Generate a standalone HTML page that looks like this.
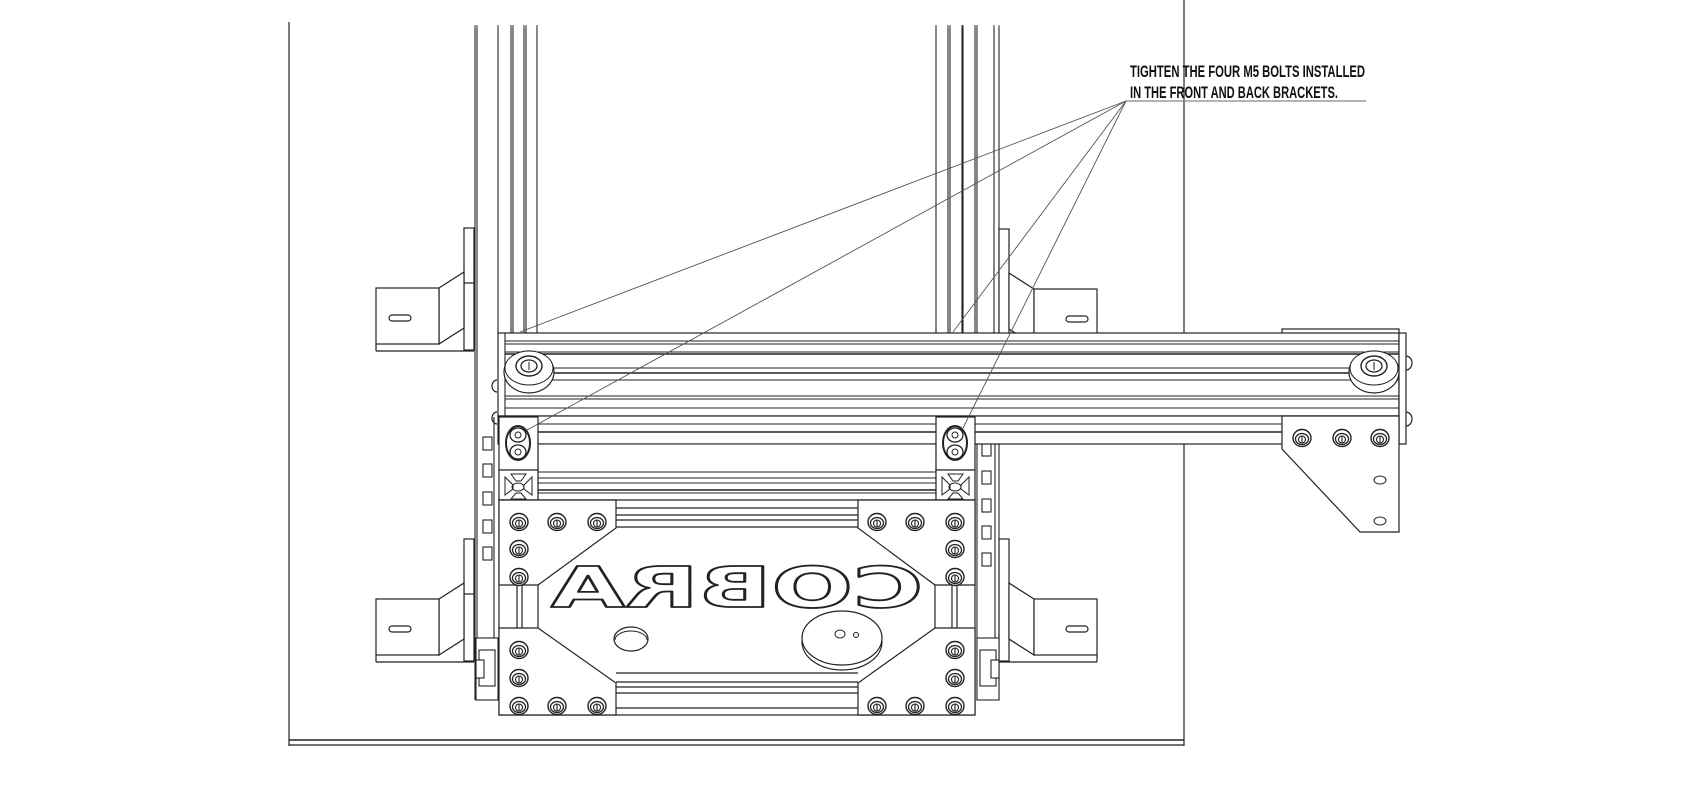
<!DOCTYPE html>
<html><head><meta charset="utf-8"><style>
html,body{margin:0;padding:0;background:#fff;}
svg{display:block}
</style></head><body>
<svg width="1700" height="800" viewBox="0 0 1700 800" xmlns="http://www.w3.org/2000/svg">
<defs>
<linearGradient id="fade" x1="0" y1="0" x2="0" y2="1"><stop offset="0" stop-color="#fff" stop-opacity="1"/><stop offset="1" stop-color="#fff" stop-opacity="0"/></linearGradient>
<g id="bolt"><ellipse cx="0" cy="0" rx="9" ry="8.5" fill="#fff" stroke="#222" stroke-width="1.4"/><ellipse cx="0" cy="1" rx="6.5" ry="5.5" fill="none" stroke="#222" stroke-width="1.3"/><circle cx="0" cy="1.5" r="3.5" fill="none" stroke="#222" stroke-width="1.1"/><line x1="0" y1="-2" x2="0" y2="5" stroke="#222" stroke-width="1.1"/></g>
<g id="wheel"><ellipse cx="0" cy="4" rx="25" ry="21" fill="#fff" stroke="#222" stroke-width="1.2"/><ellipse cx="0" cy="0" rx="24" ry="17" fill="#fff" stroke="#222" stroke-width="1"/><ellipse cx="0" cy="-2" rx="13" ry="10" fill="none" stroke="#222" stroke-width="1.4"/><ellipse cx="0" cy="-2" rx="8" ry="6" fill="none" stroke="#222" stroke-width="1.3"/><line x1="0" y1="-6" x2="0" y2="2" stroke="#222"/></g>
<g id="lbracket" fill="#fff" stroke="#222" stroke-width="1.2"><rect x="464" y="-60" width="10" height="122"/><line x1="464" y1="-5" x2="474" y2="-5"/><polygon points="439,0 464,-16 464,40 439,56"/><rect x="376" y="0" width="63" height="56"/><line x1="376" y1="63" x2="474" y2="63"/><line x1="376" y1="56" x2="376" y2="63"/><rect x="389" y="27" width="22" height="6" rx="3" fill="none"/></g>
<g id="rbracket" fill="#fff" stroke="#222" stroke-width="1.2"><rect x="999" y="-60" width="10" height="122"/><polygon points="1034,0 1009,-16 1009,40 1034,56"/><rect x="1034" y="0" width="63" height="56"/><line x1="999" y1="63" x2="1097" y2="63"/><line x1="1097" y1="56" x2="1097" y2="63"/><rect x="1066" y="27" width="22" height="6" rx="3" fill="none"/></g>
<g id="corner"><rect x="0" y="0" width="39" height="53" fill="#fff" stroke="#222" stroke-width="1.2"/><ellipse cx="19" cy="26" rx="12" ry="17" fill="#fff" stroke="#222" stroke-width="2"/><ellipse cx="19" cy="18" rx="8" ry="7" fill="#fff" stroke="#222" stroke-width="1.3"/><ellipse cx="19" cy="35" rx="8" ry="7" fill="#fff" stroke="#222" stroke-width="1.3"/><circle cx="19" cy="18" r="3" fill="none" stroke="#222"/><circle cx="19" cy="35" r="3" fill="none" stroke="#222"/><rect x="0" y="53" width="39" height="30" fill="#fff" stroke="#222" stroke-width="1.2"/><path d="M6,60 L14,68 L14,72 L6,78 Z M33,60 L25,68 L25,72 L33,78 Z M12,57 L27,57 L22,64 L17,64 Z M12,82 L27,82 L22,76 L17,76 Z" fill="none" stroke="#222"/><ellipse cx="19" cy="70" rx="6" ry="4" fill="none" stroke="#222"/></g>
</defs>
<g fill="none" stroke="#222" stroke-width="1.2">
<line x1="289" y1="22" x2="289" y2="746"/>
<line x1="1184" y1="0" x2="1184" y2="746"/>
<line x1="289" y1="740" x2="1184" y2="740" stroke-width="1.6"/>
<line x1="289" y1="745" x2="1184" y2="745"/>
<g stroke-width="1.1">
<line x1="475" y1="25" x2="475" y2="700"/><line x1="477" y1="25" x2="477" y2="700"/>
<line x1="498" y1="25" x2="498" y2="333"/><line x1="511" y1="25" x2="511" y2="333"/><line x1="513" y1="25" x2="513" y2="333"/>
<line x1="524" y1="25" x2="524" y2="333"/><line x1="526" y1="25" x2="526" y2="333"/><line x1="537" y1="25" x2="537" y2="333"/>
<line x1="494" y1="417" x2="494" y2="700"/>
<line x1="936" y1="25" x2="936" y2="333"/><line x1="948" y1="25" x2="948" y2="333"/><line x1="950" y1="25" x2="950" y2="333"/>
<line x1="962" y1="25" x2="962" y2="333"/><line x1="963" y1="25" x2="963" y2="333"/><line x1="975" y1="25" x2="975" y2="333"/>
<line x1="977" y1="25" x2="977" y2="700"/><line x1="994" y1="25" x2="994" y2="333"/><line x1="999" y1="25" x2="999" y2="700"/>
<line x1="995" y1="333" x2="995" y2="700"/>
</g>
</g>
<rect x="460" y="0" width="560" height="30" fill="url(#fade)"/>
<use href="#lbracket" transform="translate(0,288)"/>
<use href="#rbracket" transform="translate(0,289)"/>
<use href="#lbracket" transform="translate(0,599)"/>
<use href="#rbracket" transform="translate(0,599)"/>
<g fill="#fff" stroke="#222" stroke-width="1.1">
<rect x="483" y="437" width="9" height="13"/><rect x="483" y="464" width="9" height="13"/><rect x="483" y="492" width="9" height="13"/><rect x="483" y="520" width="9" height="13"/><rect x="483" y="547" width="9" height="13"/>
<rect x="982" y="443" width="9" height="13"/><rect x="982" y="471" width="9" height="13"/><rect x="982" y="499" width="9" height="13"/><rect x="982" y="526" width="9" height="13"/><rect x="982" y="553" width="9" height="13"/>
<rect x="476" y="638" width="22" height="62"/><rect x="479" y="650" width="16" height="36"/><rect x="476" y="660" width="8" height="18"/>
<rect x="977" y="638" width="22" height="62"/><rect x="980" y="650" width="16" height="36"/><rect x="991" y="660" width="8" height="18"/>
</g>
<rect x="1282" y="329" width="117" height="5" fill="#fff" stroke="#222" stroke-width="1.2"/>
<g fill="#fff" stroke="#222" stroke-width="1.2">
<rect x="498" y="333" width="901" height="83"/>
<rect x="498" y="416" width="901" height="28"/>
<rect x="1399" y="333" width="7" height="111"/>
<path d="M1406,356 a6,7 0 0 1 0,14 M1406,412 a6,7 0 0 1 0,14" fill="none"/>
<path d="M497,380 a5,6 0 0 0 0,12 M497,412 a5,6 0 0 0 0,12" fill="none"/>
</g>
<g stroke="#222" stroke-width="1.1">
<line x1="505" y1="333" x2="505" y2="416"/>
<line x1="505" y1="341" x2="1399" y2="341"/><line x1="505" y1="344" x2="1399" y2="344"/>
<line x1="505" y1="352" x2="1399" y2="352"/><line x1="505" y1="354" x2="1399" y2="354" stroke-width="1.6"/>
<line x1="505" y1="368" x2="1399" y2="368"/><line x1="505" y1="373" x2="1399" y2="373" stroke-width="1.6"/>
<line x1="505" y1="380" x2="1399" y2="380"/>
<line x1="505" y1="396" x2="1399" y2="396"/><line x1="505" y1="399" x2="1399" y2="399"/>
<line x1="505" y1="408" x2="1399" y2="408"/>
<line x1="498" y1="424" x2="1399" y2="424"/><line x1="498" y1="432" x2="1399" y2="432" stroke-width="1.6"/>
</g>
<use href="#wheel" transform="translate(529,368)"/>
<use href="#wheel" transform="translate(1374,368)"/>
<polygon points="1282,416 1399,416 1399,532 1360,532 1282,449" fill="#fff" stroke="#222" stroke-width="1.2"/>
<use href="#bolt" transform="translate(1302,438)"/>
<use href="#bolt" transform="translate(1342,438)"/>
<use href="#bolt" transform="translate(1380,438)"/>
<ellipse cx="1380" cy="480" rx="6" ry="4" fill="none" stroke="#222"/>
<ellipse cx="1380" cy="521" rx="6" ry="4" fill="none" stroke="#222"/>
<g stroke="#222" stroke-width="1.1">
<rect x="538" y="444" width="398" height="56" fill="#fff"/>
<line x1="538" y1="472" x2="936" y2="472"/><line x1="538" y1="478" x2="936" y2="478"/>
<line x1="538" y1="483" x2="936" y2="483"/><line x1="538" y1="490" x2="936" y2="490" stroke-width="1.6"/><line x1="538" y1="493" x2="936" y2="493"/>
</g>
<use href="#corner" transform="translate(499,417)"/>
<use href="#corner" transform="translate(936,417)"/>
<g stroke="#222" stroke-width="1.2">
<rect x="499" y="500" width="476" height="215" fill="#fff"/>
<line x1="616" y1="508" x2="858" y2="508"/><line x1="616" y1="515" x2="858" y2="515"/><line x1="616" y1="520" x2="858" y2="520"/><line x1="616" y1="527" x2="858" y2="527"/>
<line x1="616" y1="673" x2="858" y2="673"/><line x1="616" y1="682" x2="858" y2="682"/><line x1="616" y1="687" x2="858" y2="687"/><line x1="616" y1="693" x2="858" y2="693"/><line x1="616" y1="708" x2="858" y2="708"/>
<polygon points="499,500 616,500 616,528 538,585 499,585" fill="#fff"/>
<polygon points="858,500 975,500 975,585 935,585 858,528" fill="#fff"/>
<polygon points="499,628 538,628 616,683 616,715 499,715" fill="#fff"/>
<polygon points="975,628 935,628 858,683 858,715 975,715" fill="#fff"/>
<line x1="538" y1="585" x2="538" y2="628"/><line x1="935" y1="585" x2="935" y2="628"/>
<line x1="517" y1="585" x2="517" y2="628"/><line x1="522" y1="585" x2="522" y2="628"/>
<line x1="952" y1="585" x2="952" y2="628"/><line x1="957" y1="585" x2="957" y2="628"/>
</g>
<g>
<use href="#bolt" transform="translate(519,522)"/><use href="#bolt" transform="translate(557,522)"/><use href="#bolt" transform="translate(597,522)"/>
<use href="#bolt" transform="translate(519,549)"/><use href="#bolt" transform="translate(519,577)"/>
<use href="#bolt" transform="translate(877,522)"/><use href="#bolt" transform="translate(915,522)"/><use href="#bolt" transform="translate(955,522)"/>
<use href="#bolt" transform="translate(955,549)"/><use href="#bolt" transform="translate(955,577)"/>
<use href="#bolt" transform="translate(519,650)"/><use href="#bolt" transform="translate(519,678)"/><use href="#bolt" transform="translate(519,706)"/><use href="#bolt" transform="translate(557,706)"/><use href="#bolt" transform="translate(597,706)"/>
<use href="#bolt" transform="translate(955,650)"/><use href="#bolt" transform="translate(955,678)"/><use href="#bolt" transform="translate(955,706)"/><use href="#bolt" transform="translate(915,706)"/><use href="#bolt" transform="translate(877,706)"/>
</g>
<text transform="translate(923,607) scale(-1,1)" font-family="DejaVu Sans, sans-serif" font-weight="bold" font-size="56" textLength="372" lengthAdjust="spacingAndGlyphs" fill="#fff" stroke="#222" stroke-width="1.8" stroke-linejoin="round">COBRA</text>
<ellipse cx="631" cy="639" rx="17" ry="12" fill="#fff" stroke="#222" stroke-width="1.2"/>
<path d="M615,640 a16,9 0 0 1 32,0" fill="none" stroke="#222"/>
<ellipse cx="842" cy="642" rx="40" ry="28" fill="#fff" stroke="#222" stroke-width="1.2"/>
<ellipse cx="842" cy="638" rx="40" ry="27" fill="#fff" stroke="#222" stroke-width="1.2"/>
<ellipse cx="840" cy="634" rx="5" ry="4" fill="none" stroke="#222"/>
<circle cx="856" cy="635" r="2.5" fill="none" stroke="#222"/>
<g stroke="#555" stroke-width="0.9" fill="none">
<line x1="1126" y1="101" x2="1366" y2="101" stroke="#888" stroke-width="1.2"/>
<line x1="1126" y1="101" x2="520" y2="332"/>
<line x1="1126" y1="101" x2="527" y2="430"/>
<line x1="1126" y1="101" x2="953" y2="332"/>
<line x1="1126" y1="101" x2="963" y2="428"/>
</g>
<g font-family="Liberation Sans Narrow, Liberation Sans, sans-serif" font-weight="bold" font-size="17" fill="#111">
<text x="1130" y="77" textLength="235" lengthAdjust="spacingAndGlyphs">TIGHTEN THE FOUR M5 BOLTS INSTALLED</text>
<text x="1130" y="98" textLength="208" lengthAdjust="spacingAndGlyphs">IN THE FRONT AND BACK BRACKETS.</text>
</g>
</svg>
</body></html>
